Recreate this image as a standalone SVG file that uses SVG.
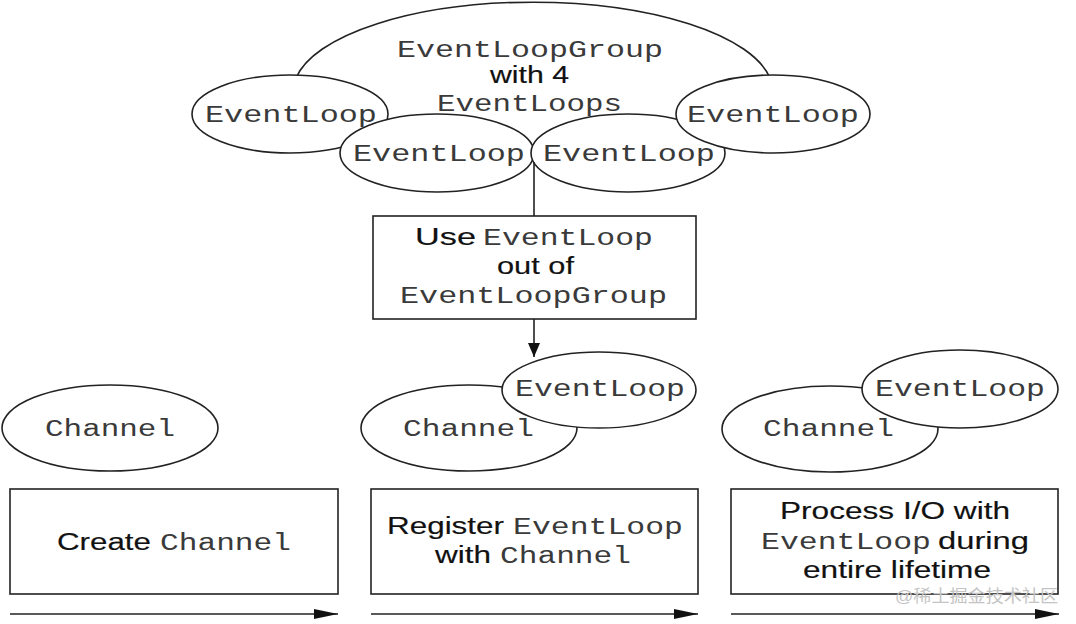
<svg xmlns="http://www.w3.org/2000/svg" width="1076" height="624" viewBox="0 0 1076 624">
<style>
.sh{fill:#fff;stroke:#222;stroke-width:1.6}
.ln{fill:none;stroke:#222;stroke-width:1.6}
.m{font-family:"Liberation Mono","Courier New",monospace;font-size:23px;fill:#3a3a3a}
.s{font-family:"Liberation Sans",Arial,sans-serif;font-size:23px;fill:#111;stroke:#111;stroke-width:0.15}
.wm{font-family:"Liberation Sans","Noto Sans CJK SC",sans-serif;font-size:17px;fill:#c4c4c4}
</style>
<defs>
<marker id="ah" markerUnits="userSpaceOnUse" markerWidth="14" markerHeight="12" refX="14" refY="6" orient="auto"><path d="M0,0 L14,6 L0,12 z" fill="#111"/></marker>
<marker id="ah2" markerUnits="userSpaceOnUse" markerWidth="24" markerHeight="10" refX="24" refY="5" orient="auto"><path d="M0,0 L24,5 L0,10 z" fill="#111"/></marker>
</defs>
<rect width="1076" height="624" fill="#fff"/>
<g id="group">
<path class="sh" d="M296,78 A240,90 0 0 1 770,78"/>
<text class="m" x="397" y="57" textLength="266" lengthAdjust="spacingAndGlyphs">EventLoopGroup</text>
<text class="s" x="490" y="83" textLength="79" lengthAdjust="spacingAndGlyphs">with 4</text>
<text class="m" x="437" y="111" textLength="185" lengthAdjust="spacingAndGlyphs">EventLoops</text>
</g>
<g id="el1"><ellipse class="sh" cx="290" cy="114" rx="98" ry="39"/><text class="m" x="205" y="122" textLength="172" lengthAdjust="spacingAndGlyphs">EventLoop</text></g>
<g id="el2"><ellipse class="sh" cx="437" cy="153" rx="97" ry="39"/><text class="m" x="353" y="161" textLength="172" lengthAdjust="spacingAndGlyphs">EventLoop</text></g>
<g id="el3"><ellipse class="sh" cx="628" cy="153" rx="97" ry="39"/><text class="m" x="543" y="161" textLength="172" lengthAdjust="spacingAndGlyphs">EventLoop</text></g>
<g id="el4"><ellipse class="sh" cx="773" cy="114" rx="97" ry="39"/><text class="m" x="687" y="122" textLength="172" lengthAdjust="spacingAndGlyphs">EventLoop</text></g>
<g id="use">
<rect class="sh" x="373" y="216" width="323" height="103"/>
<text class="s" x="415" y="245" textLength="61" lengthAdjust="spacingAndGlyphs">Use</text>
<text class="m" x="483" y="245" textLength="170" lengthAdjust="spacingAndGlyphs">EventLoop</text>
<text class="s" x="497" y="274" textLength="77" lengthAdjust="spacingAndGlyphs">out of</text>
<text class="m" x="400" y="303" textLength="267" lengthAdjust="spacingAndGlyphs">EventLoopGroup</text>
</g>
<g id="ch1"><ellipse class="sh" cx="110" cy="428" rx="108" ry="43"/><text class="m" x="45" y="436" textLength="130" lengthAdjust="spacingAndGlyphs">Channel</text></g>
<g id="ch2"><ellipse class="sh" cx="469" cy="428" rx="108" ry="43"/><text class="m" x="403" y="436" textLength="131" lengthAdjust="spacingAndGlyphs">Channel</text></g>
<g id="el5"><ellipse class="sh" cx="599" cy="390" rx="97" ry="38"/><text class="m" x="515" y="396" textLength="170" lengthAdjust="spacingAndGlyphs">EventLoop</text></g>
<g id="ch3"><ellipse class="sh" cx="830" cy="429" rx="108" ry="43"/><text class="m" x="763" y="436" textLength="131" lengthAdjust="spacingAndGlyphs">Channel</text></g>
<g id="el6"><ellipse class="sh" cx="960" cy="389" rx="98" ry="39"/><text class="m" x="875" y="396" textLength="170" lengthAdjust="spacingAndGlyphs">EventLoop</text></g>
<g id="step1">
<rect class="sh" x="10" y="489" width="328" height="105"/>
<text class="s" x="57" y="550" textLength="94" lengthAdjust="spacingAndGlyphs">Create</text>
<text class="m" x="160" y="550" textLength="131" lengthAdjust="spacingAndGlyphs">Channel</text>
</g>
<g id="step2">
<rect class="sh" x="371" y="489" width="327" height="105"/>
<text class="s" x="387" y="534" textLength="117" lengthAdjust="spacingAndGlyphs">Register</text>
<text class="m" x="513" y="534" textLength="170" lengthAdjust="spacingAndGlyphs">EventLoop</text>
<text class="s" x="435" y="563" textLength="56" lengthAdjust="spacingAndGlyphs">with</text>
<text class="m" x="500" y="563" textLength="131" lengthAdjust="spacingAndGlyphs">Channel</text>
</g>
<g id="step3">
<rect class="sh" x="731" y="489" width="327" height="105"/>
<text class="s" x="780" y="519" textLength="230" lengthAdjust="spacingAndGlyphs">Process I/O with</text>
<text class="m" x="761" y="549" textLength="170" lengthAdjust="spacingAndGlyphs">EventLoop</text>
<text class="s" x="938" y="549" textLength="91" lengthAdjust="spacingAndGlyphs">during</text>
<text class="s" x="803" y="578" textLength="188" lengthAdjust="spacingAndGlyphs">entire lifetime</text>
</g>
<g id="connectors">
<line class="ln" x1="534" y1="162" x2="534" y2="216"/>
<line class="ln" x1="534" y1="319" x2="534" y2="357" marker-end="url(#ah)"/>
<line class="ln" x1="10" y1="614" x2="338" y2="614" marker-end="url(#ah2)"/>
<line class="ln" x1="371" y1="614" x2="698" y2="614" marker-end="url(#ah2)"/>
<line class="ln" x1="731" y1="614" x2="1059" y2="614" marker-end="url(#ah2)"/>
</g>
<text class="wm" x="895" y="602" textLength="163" lengthAdjust="spacingAndGlyphs">@稀土掘金技术社区</text>
</svg>
